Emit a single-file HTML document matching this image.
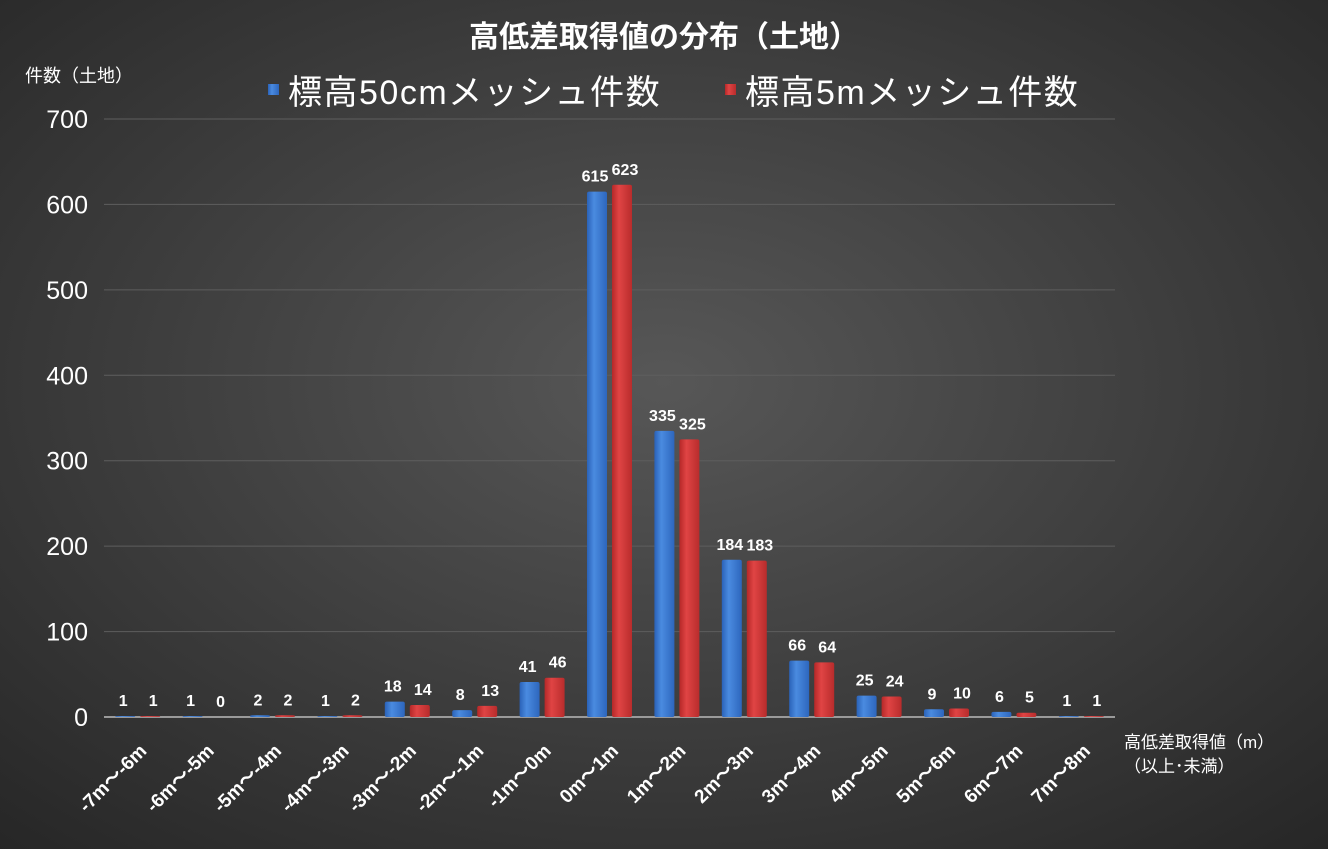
<!DOCTYPE html>
<html><head><meta charset="utf-8"><style>
html,body{margin:0;padding:0;width:1328px;height:849px;overflow:hidden;background:#333;}
svg{display:block;font-family:"Liberation Sans","Noto Sans CJK JP",sans-serif;}
</style></head><body>
<svg id="chart" width="1328" height="849" xmlns="http://www.w3.org/2000/svg">
<defs>
<radialGradient id="bg" cx="50%" cy="45%" r="75%">
<stop offset="0" stop-color="#575757"/><stop offset="1" stop-color="#262626"/>
</radialGradient>
<linearGradient id="gb" x1="0" x2="1"><stop offset="0" stop-color="#2a62b8"/><stop offset="0.35" stop-color="#4a8be0"/><stop offset="1" stop-color="#2d66bd"/></linearGradient>
<linearGradient id="gr" x1="0" x2="1"><stop offset="0" stop-color="#b52828"/><stop offset="0.35" stop-color="#e04444"/><stop offset="1" stop-color="#b82c2c"/></linearGradient>
</defs>
<rect width="1328" height="849" fill="url(#bg)"/>
<text x="664" y="47" fill="#fff" font-size="30" font-weight="bold" text-anchor="middle">高低差取得値の分布（土地）</text>
<text x="25" y="82" fill="#fff" font-size="18">件数（土地）</text>
<g>
<rect x="268" y="84" width="11" height="11" fill="url(#gb)"/>
<text x="288" y="104" fill="#fff" font-size="34" letter-spacing="1.5">標高50cmメッシュ件数</text>
<rect x="725" y="84" width="11" height="11" fill="url(#gr)"/>
<text x="745" y="104" fill="#fff" font-size="34" letter-spacing="1.5">標高5mメッシュ件数</text>
</g>
<g id="grid"></g><g id="bars"></g><g id="labels"></g>
<text x="1124" y="748" fill="#fff" font-size="17">高低差取得値（m）</text>
<text x="1124" y="772" fill="#fff" font-size="17">（以上･未満）</text>
</svg>
<script>
const categories=["-7m～-6m","-6m～-5m","-5m～-4m","-4m～-3m","-3m～-2m","-2m～-1m","-1m～0m","0m～1m","1m～2m","2m～3m","3m～4m","4m～5m","5m～6m","6m～7m","7m～8m"];
const mesh50cm=[1,1,2,1,18,8,41,615,335,184,66,25,9,6,1];
const mesh5m=[1,0,2,2,14,13,46,623,325,183,64,24,10,5,1];
const yTicks=[0,100,200,300,400,500,600,700];
const NS="http://www.w3.org/2000/svg";
const X0=104,X1=1115,Y0=717,Y1=119,YMAX=700;
const step=(X1-X0)/categories.length;
const y=v=>Y0-(v/YMAX)*(Y0-Y1);
const xc=i=>X0+step*(i+0.5);
function mk(tag,attrs,parent){const e=document.createElementNS(NS,tag);for(const k in attrs)e.setAttribute(k,attrs[k]);parent.appendChild(e);return e;}
const grid=document.getElementById('grid'),bars=document.getElementById('bars'),labels=document.getElementById('labels');
yTicks.forEach(t=>{
  if(t>0){const l=mk('line',{x1:X0,x2:X1,y1:y(t),y2:y(t),stroke:'#5e5e5e','stroke-width':1},grid);
  
  }
  const tx=mk('text',{x:88,y:y(t)+9,fill:'#fff','font-size':25,'text-anchor':'end'},grid);
  tx.textContent=t;
  
  
});
const ax=mk('line',{x1:X0,x2:X1,y1:Y0,y2:Y0,stroke:'#9a9a9a','stroke-width':2},grid);


const BW=20;
categories.forEach((c,i)=>{
  [[mesh50cm,'url(#gb)',-12.5,'50cm',-2],[mesh5m,'url(#gr)',12.5,'5m',3]].forEach(([arr,fill,off,nm,lo])=>{
    const v=arr[i],cx=xc(i)+off,top=y(v);
    const r=mk('rect',{x:cx-BW/2,y:top,width:BW,height:Math.max(Y0-top,0),fill:fill,rx:2},bars);
    
    
    const t=mk('text',{x:cx+lo,y:top-10,fill:'#fff','font-size':16,'font-weight':'bold','text-anchor':'middle'},labels);
    t.textContent=v;
    
    
  });
  const lx=xc(i)+10,ly=752;
  const t=mk('text',{x:lx,y:ly,fill:'#fff','font-size':19,'font-weight':'bold','text-anchor':'end',transform:`rotate(-45 ${lx} ${ly})`},labels);
  t.textContent=c;
  
  
});
</script>
</body></html>
